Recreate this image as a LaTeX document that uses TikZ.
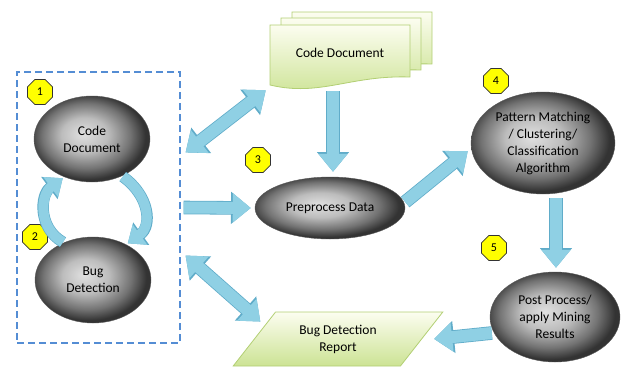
\documentclass[tikz,border=0pt]{standalone}
\usepackage{fontspec}
\setmainfont{Carlito}
\usepackage{tikz}
\usetikzlibrary{shapes,arrows.meta}
\definecolor{flowBlue}{RGB}{143,208,228}
\definecolor{flowEdge}{RGB}{96,172,201}
\definecolor{docTop}{RGB}{252,253,240}
\definecolor{docBottom}{RGB}{204,227,148}
\definecolor{docEdge}{RGB}{178,207,115}
\definecolor{boxBlue}{RGB}{84,141,212}
\definecolor{badgeYellow}{RGB}{255,255,0}
\pgfdeclareradialshading{oval}{\pgfpoint{-4bp}{3bp}}{color(0bp)=(black!12); color(10bp)=(black!26); color(19bp)=(black!55); color(25bp)=(black!80); color(50bp)=(black!80)}

\begin{document}
\begin{tikzpicture}[x=1pt, y=-1pt]%
  \tikzset{
    stage/.style={ellipse, draw=black!65, shade, shading=oval, align=center, inner sep=0pt},
    badge/.style={regular polygon, regular polygon sides=8, minimum size=27pt, inner sep=0pt,
                  fill=badgeYellow, draw=black!80, line width=0.6pt, font=\fontsize{12}{12}\selectfont},
    flow/.style={line width=12pt, draw=flowBlue, -{Triangle[length=18pt,width=28pt]},
                 preaction={draw=flowEdge, line width=13.6pt, -{Triangle[length=19.8pt,width=31pt]}}},
    flow both/.style={line width=12pt, draw=flowBlue, {Triangle[length=18pt,width=28pt]}-{Triangle[length=18pt,width=28pt]},
                 preaction={draw=flowEdge, line width=13.6pt, {Triangle[length=19.8pt,width=31pt]}-{Triangle[length=19.8pt,width=31pt]}}},
    turn/.style={line width=10pt, draw=flowBlue, -{Triangle[length=15pt,width=24pt]}, shorten >=2pt, shorten <=1pt,
                 preaction={draw=flowEdge, line width=11.4pt, -{Triangle[length=16.6pt,width=26.6pt]}}},
    sheet/.style={top color=docTop, bottom color=docBottom, draw=docEdge, line width=0.8pt},
    docsheet/.pic={\path[sheet] (0,0) -- (140,0) -- (140,52) .. controls (80,50) and (50,72) .. (0,60) -- cycle;}
  }
  \tikzstyle{every node}=[text=black, font=\fontsize{13.5}{17}\selectfont]

  \useasboundingbox (0,0) rectangle (621,367);

  % left group with its two stages
  \node[draw=boxBlue, dashed, dash pattern=on 7pt off 4pt, line width=1.1pt,
        minimum width=163pt, minimum height=271pt] (grp) at (98.5,207.5) {};
  \node[stage, minimum width=116pt, minimum height=86pt] (code) at (92,139) {Code\\Document};
  \node[stage, minimum width=116pt, minimum height=86pt] (bug) at (93,280) {Bug\\Detection};
  \node[badge] (b1) at (40,92) {1};
  \node[badge] (b2) at (35,237) {2};

  % stacked documents
  \pic at (292,12) {docsheet};
  \pic at (281,18) {docsheet};
  \pic at (270,25) {docsheet};
  \node[minimum width=140pt, minimum height=60pt] (docs) at (340,53) {Code Document};

  \node[stage, minimum width=150pt, minimum height=62pt] (prep) at (330,208) {Preprocess Data};
  \node[badge] (b3) at (258,160) {3};
  \node[stage, minimum width=144pt, minimum height=102pt] (pat) at (543,143)
       {Pattern Matching\\/ Clustering/\\Classification\\Algorithm};
  \node[badge] (b4) at (496,81) {4};
  \node[stage, minimum width=130pt, minimum height=90pt] (post) at (555,317)
       {Post Process/\\apply Mining\\Results};
  \node[badge] (b5) at (494,248) {5};

  \node[trapezium, trapezium left angle=51, trapezium right angle=129, trapezium stretches=true,
        minimum width=210pt, minimum height=54pt, sheet, align=center] (report) at (338,339)
       {Bug Detection\\Report};

  \draw[turn] (bug.128) .. controls (38,228) and (40,195) .. (code.234);
  \draw[turn] (code.309) .. controls (150,196) and (152,226) .. (bug.47);

  \draw[flow both] ([xshift=5pt,yshift=55pt]grp.east) -- ([xshift=-4pt,yshift=-7pt]docs.south west);
  \draw[flow] ([xshift=-7pt,yshift=-8pt]docs.south) -- ([xshift=3pt,yshift=5pt]prep.north);
  \draw[flow] ([xshift=3pt]grp.east) -- ([xshift=-4pt]prep.west);
  \draw[flow] ([yshift=6pt]prep.east) -- ([xshift=-3pt,yshift=-8pt]pat.west);
  \draw[flow] ([xshift=13pt,yshift=-4pt]pat.south) -- ([xshift=1pt,yshift=4pt]post.north);
  \draw[flow] ([xshift=2pt,yshift=-16pt]post.west) -- ([xshift=12pt]report.east);
  \draw[flow both] ([xshift=5pt,yshift=-48pt]grp.east) -- ([xshift=-15pt,yshift=-10pt]report.top left corner);
\end{tikzpicture}
\end{document}
